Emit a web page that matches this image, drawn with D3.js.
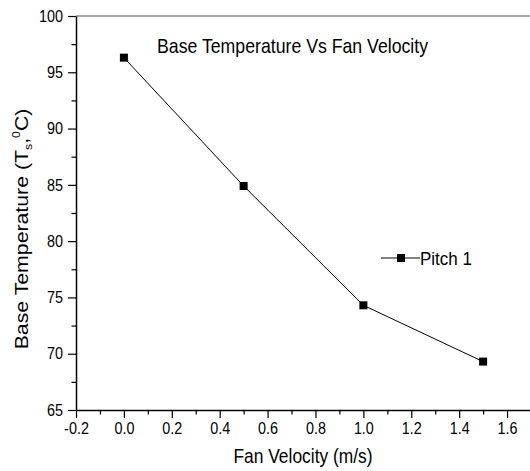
<!DOCTYPE html>
<html>
<head>
<meta charset="utf-8">
<script src="https://cdn.jsdelivr.net/npm/d3@7"></script>
<style>
  html, body { margin: 0; padding: 0; background: #fff; }
  svg { display: block; font-family: "Liberation Sans", Arial, sans-serif; }
</style>
</head>
<body>
<svg id="chart" width="530" height="471"></svg>
<script>
// Fan velocity (m/s) and measured base temperature (°C)
const velocity = [0.0, 0.5, 1.0, 1.5];
const baseTemp = [96.3, 84.9, 74.3, 69.3];
const seriesName = "Pitch 1";

const xTicks = [-0.2, 0.0, 0.2, 0.4, 0.6, 0.8, 1.0, 1.2, 1.4, 1.6];
const yTicks = [65, 70, 75, 80, 85, 90, 95, 100];
const xMinor = [-0.1, 0.1, 0.3, 0.5, 0.7, 0.9, 1.1, 1.3, 1.5, 1.7];
const yMinor = [67.5, 72.5, 77.5, 82.5, 87.5, 92.5, 97.5];

const svg = d3.select("#chart");
const plotLeft = 76, plotRight = 531, plotTop = 16, plotBottom = 410;
const stretch = 1.12;   // glyphs are drawn slightly tall

const x = d3.scaleLinear().domain([-0.2, 1.7]).range([plotLeft, plotRight]);
const y = d3.scaleLinear().domain([65, 100]).range([plotBottom, plotTop]);

// horizontal text anchored at (px, py) with tall glyphs
function label(px, py, str, size, anchor) {
  return svg.append("text")
    .attr("transform", `translate(${px},${py}) scale(1,${stretch})`)
    .attr("text-anchor", anchor || "start")
    .attr("font-size", size).attr("fill", "#000")
    .text(str);
}

// top frame line
svg.append("line")
  .attr("x1", plotLeft).attr("x2", plotRight)
  .attr("y1", plotTop).attr("y2", plotTop)
  .attr("stroke", "#555").attr("stroke-width", 1.2);

const fmt = d => d.toFixed(1);

const gx = svg.append("g").attr("transform", `translate(0,${plotBottom})`)
  .call(d3.axisBottom(x).tickValues(xTicks).tickFormat(fmt)
    .tickSizeInner(8).tickSizeOuter(0));
gx.selectAll(".tick text")
  .attr("y", 0).attr("dy", null)
  .attr("transform", `translate(0,23.5) scale(1,${stretch})`);
svg.append("g").attr("transform", `translate(0,${plotBottom})`)
  .call(d3.axisBottom(x).tickValues(xMinor).tickFormat("").tickSizeInner(4.5).tickSizeOuter(0))
  .select(".domain").remove();

const gy = svg.append("g").attr("transform", `translate(${plotLeft},0)`)
  .call(d3.axisLeft(y).tickValues(yTicks).tickFormat(d3.format("d"))
    .tickSizeInner(8).tickSizeOuter(0));
gy.selectAll(".tick text")
  .attr("x", 0).attr("dy", null)
  .attr("transform", `translate(-13,5.2) scale(1,${stretch})`);
svg.append("g").attr("transform", `translate(${plotLeft},0)`)
  .call(d3.axisLeft(y).tickValues(yMinor).tickFormat("").tickSizeInner(4.5).tickSizeOuter(0))
  .select(".domain").remove();

svg.selectAll(".domain").attr("stroke", "#000").attr("stroke-width", 1.5);
svg.selectAll(".tick line").attr("stroke", "#000").attr("stroke-width", 1.2);
svg.selectAll(".tick text")
  .attr("font-family", "Liberation Sans, Arial, sans-serif")
  .attr("font-size", 14.4).attr("fill", "#000");

// data line and markers
const line = d3.line().x((d, i) => x(velocity[i])).y(d => y(d));
svg.append("path")
  .datum(baseTemp)
  .attr("d", line)
  .attr("fill", "none").attr("stroke", "#000").attr("stroke-width", 1);

const ms = 8;
svg.selectAll("rect.pt").data(baseTemp).enter().append("rect")
  .attr("class", "pt")
  .attr("x", (d, i) => x(velocity[i]) - ms / 2)
  .attr("y", d => y(d) - ms / 2)
  .attr("width", ms).attr("height", ms)
  .attr("fill", "#000");

// title
label(157, 53, "Base Temperature Vs Fan Velocity", 17.7);

// legend
const lg = svg.append("g").attr("transform", "translate(381,258)");
lg.append("line").attr("x1", 0).attr("x2", 39).attr("y1", 0).attr("y2", 0)
  .attr("stroke", "#000").attr("stroke-width", 1);
lg.append("rect").attr("x", 20 - ms / 2).attr("y", -ms / 2)
  .attr("width", ms).attr("height", ms).attr("fill", "#000");
label(420, 265, seriesName, 17);

// axis titles
label(303, 463, "Fan Velocity (m/s)", 17.4, "middle");

const yl = svg.append("text")
  .attr("transform", `translate(28,229) rotate(-90) scale(${stretch},1)`)
  .attr("text-anchor", "middle").attr("font-size", 19).attr("fill", "#000");
yl.append("tspan").text("Base Temperature (T");
yl.append("tspan").attr("font-size", 11).attr("dy", 4).text("s");
yl.append("tspan").attr("dy", -4).text(",");
yl.append("tspan").attr("font-size", 11).attr("dy", -8).text("0");
yl.append("tspan").attr("dy", 8).text("C)");
</script>
</body>
</html>
